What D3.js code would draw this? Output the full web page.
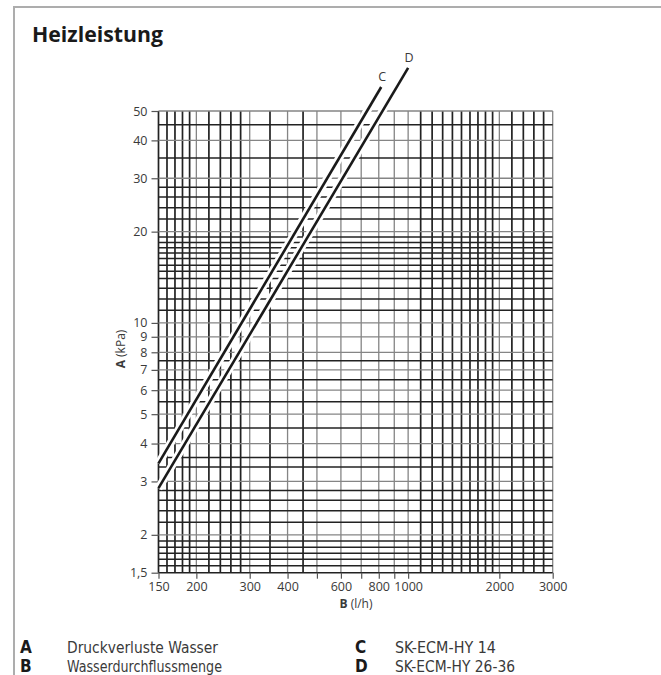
<!DOCTYPE html>
<html>
<head>
<meta charset="utf-8">
<script src="https://cdn.jsdelivr.net/npm/d3@7"></script>
<style>
  html, body { margin: 0; padding: 0; background: #fff; }
  svg { display: block; }
  .tick-label { font-family: "Open Sans", "Noto Sans", sans-serif; font-size: 12.5px; fill: #3a3a3a; }
  .axis-title { font-family: "Open Sans", "Noto Sans", sans-serif; font-size: 12px; fill: #3a3a3a; }
  .legend { font-family: "Liberation Sans Narrow", "DejaVu Sans Condensed", sans-serif; font-size: 16.5px; fill: #3a3a3a; }
  .legend-key { font-family: "Liberation Sans Narrow", "DejaVu Sans Condensed", sans-serif; font-weight: 700; font-size: 17px; fill: #1a1a1a; }
</style>
</head>
<body>
<svg id="chart" width="661" height="675"></svg>
<script>
// Water flow (l/h): labelled ticks, tick marks and grid lines
const flowLabels = [150, 200, 300, 400, 600, 800, 1000, 2000, 3000];
const flowTickMarks = [150, 200, 300, 400, 500, 600, 700, 800, 900, 1000, 2000, 3000];
const flowGrid = [150, 160, 170, 180, 190, 200, 220, 240, 260, 280, 300, 350, 400, 450, 500,
  600, 700, 800, 900, 1000, 1100, 1200, 1300, 1400, 1500, 1600, 1700, 1800, 1900, 2000,
  2200, 2400, 2600, 2800, 3000];

// Pressure loss (kPa): labelled ticks and grid lines
const pressureLabels = [1.5, 2, 3, 4, 5, 6, 7, 8, 9, 10, 20, 30, 40, 50];
const pressureGrid = [1.5, 1.58, 1.66, 1.74, 1.82, 1.91, 2, 2.2, 2.4, 2.6, 2.8, 3, 3.35, 3.6, 4, 4.5,
  5, 5.5, 6, 6.5, 7, 7.5, 8, 9, 10, 11, 12, 13, 14, 14.8, 15.5, 16.3, 17, 17.7, 18.4, 19.2, 20,
  22, 24, 26, 28, 30, 35, 40, 45, 50];

// Pressure loss curves (flow l/h, kPa)
const curveC = [[150, 3.44], [815, 60]];
const curveD = [[150, 2.85], [1000, 69.4]];

const curveNames = ["C", "D"];
const legendKeys = ["A", "B", "C", "D"];
const legendTexts = ["Druckverluste Wasser", "Wasserdurchflussmenge", "SK-ECM-HY 14", "SK-ECM-HY 26-36"];

const svg = d3.select("#chart");
const fmt = v => String(v).replace(".", ",");

// Frame around the panel
svg.append("path")
  .attr("d", "M14,675 V7 H661")
  .attr("fill", "none").attr("stroke", "#adadad").attr("stroke-width", 2);

// Title
svg.append("text")
  .attr("x", 32).attr("y", 42)
  .attr("textLength", 131).attr("lengthAdjust", "spacingAndGlyphs")
  .style("font-family", "'Open Sans', sans-serif")
  .style("font-weight", 700).style("font-size", "21.5px").style("fill", "#1a1a1a")
  .text("Heizleistung");

const x = d3.scaleLog().domain([150, 3000]).range([158.5, 552.7]);
const y = d3.scaleLog().domain([1.5, 50]).range([572.7, 111]);

const lightX = new Set(flowTickMarks.filter(v => v !== 150));
const lightY = new Set(pressureLabels.filter(v => v !== 1.5));

// Grid
const grid = svg.append("g");
grid.selectAll("line.gx").data(flowGrid).join("line")
  .attr("class", "gx")
  .attr("x1", d => x(d)).attr("x2", d => x(d))
  .attr("y1", y(50)).attr("y2", y(1.5))
  .attr("stroke", d => lightX.has(d) ? "#858585" : "#222")
  .attr("stroke-width", d => lightX.has(d) ? 1.3 : 1.7);
grid.selectAll("line.gy").data(pressureGrid).join("line")
  .attr("class", "gy")
  .attr("x1", x(150)).attr("x2", x(3000))
  .attr("y1", d => y(d)).attr("y2", d => y(d))
  .attr("stroke", d => lightY.has(d) ? "#858585" : "#222")
  .attr("stroke-width", d => lightY.has(d) ? 1.3 : 1.5);

// Axes
const xAxis = d3.axisBottom(x).tickValues(flowTickMarks).tickSize(6)
  .tickFormat(d => flowLabels.includes(d) ? String(d) : "");
const gx = svg.append("g").attr("transform", `translate(0,${y(1.5)})`).call(xAxis);
gx.select(".domain").remove();
gx.selectAll(".tick line").attr("stroke", "#555").attr("stroke-width", 1.2);
gx.selectAll(".tick text").attr("class", "tick-label").attr("dy", null).attr("y", 18.5);

const yAxis = d3.axisLeft(y).tickValues(pressureLabels).tickSize(7).tickFormat(fmt);
const gy = svg.append("g").attr("transform", `translate(${x(150)},0)`).call(yAxis);
gy.select(".domain").remove();
gy.selectAll(".tick line").attr("stroke", "#555").attr("stroke-width", 1.2);
gy.selectAll(".tick text").attr("class", "tick-label").attr("x", -11);

// Curves with white halo
const line = d3.line().x(d => x(d[0])).y(d => y(d[1]));
const curves = [curveC, curveD];
curves.forEach(c => {
  svg.append("path").attr("d", line(c)).attr("fill", "none")
    .attr("stroke", "#fff").attr("stroke-width", 8);
});
curves.forEach(c => {
  svg.append("path").attr("d", line(c)).attr("fill", "none")
    .attr("stroke", "#1a1a1a").attr("stroke-width", 2.6);
});
curves.forEach((c, i) => {
  const end = c[c.length - 1];
  svg.append("text")
    .attr("x", x(end[0]) + 1).attr("y", y(end[1]) - 6)
    .attr("text-anchor", "middle")
    .attr("class", "tick-label")
    .text(curveNames[i]);
});

// Axis titles
const yt = svg.append("text")
  .attr("transform", `translate(125,349) rotate(-90)`)
  .attr("text-anchor", "middle").attr("class", "axis-title");
yt.append("tspan").style("font-weight", 700).text("A");
yt.append("tspan").text(" (kPa)");

const xt = svg.append("text")
  .attr("x", 356).attr("y", 608)
  .attr("text-anchor", "middle").attr("class", "axis-title");
xt.append("tspan").style("font-weight", 700).text("B");
xt.append("tspan").text(" (l/h)");

// Legend
const legendPos = [[20, 67, 653], [20, 67, 672], [355, 395, 653], [355, 395, 672]];
const legendWidths = [151, 155, 101, 120];
legendKeys.forEach((k, i) => {
  const [kx, tx, ty] = legendPos[i];
  svg.append("text").attr("class", "legend-key").attr("x", kx).attr("y", ty).text(k);
  svg.append("text").attr("class", "legend").attr("x", tx).attr("y", ty)
    .attr("textLength", legendWidths[i]).attr("lengthAdjust", "spacingAndGlyphs")
    .text(legendTexts[i]);
});
</script>
</body>
</html>
